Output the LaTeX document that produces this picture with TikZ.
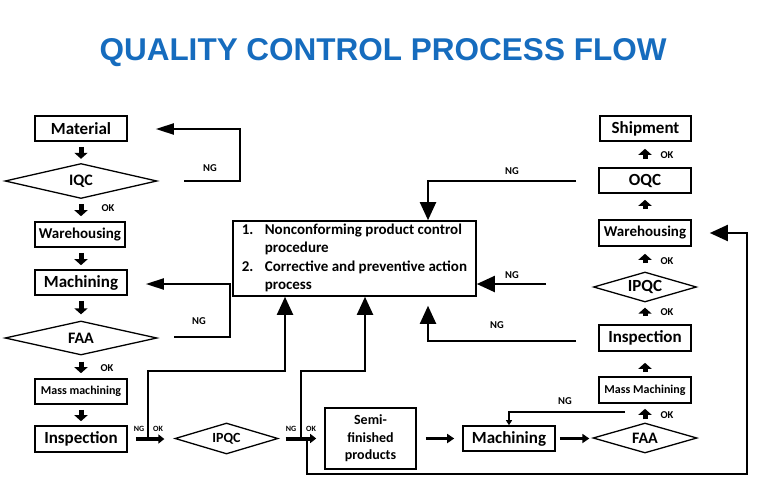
\documentclass[tikz,border=0pt]{standalone}
\usepackage{fontspec}
\setmainfont{Carlito}
\newfontfamily\titlefont{Liberation Sans}
\usetikzlibrary{arrows.meta,shapes.geometric}
\definecolor{titleblue}{RGB}{22,108,190}
\newcommand\setfs[1]{\fontsize{#1}{#1}\selectfont}
\begin{document}
\begin{tikzpicture}[x=1pt,y=-1pt,
  box/.style={draw, line width=1.6pt, inner sep=0pt, font=\bfseries\setfs{17}, minimum height=25pt},
  dia/.style={draw, diamond, aspect=3.5, line width=1.3pt, inner sep=0pt, font=\bfseries\setfs{16}},
  blk/.style={line width=5pt, -{Triangle[width=13pt,length=6pt]}},
  conn/.style={line width=2pt, -{Triangle[width=16pt,length=18pt]}},
  connL/.style={line width=2pt, -{Triangle[width=11pt,length=18pt]}},
  thk/.style={line width=4pt, -{Triangle[width=9pt,length=6pt]}},
  med/.style={line width=3pt, -{Triangle[width=9pt,length=7pt]}},
  lab/.style={font=\bfseries\setfs{10.5}, inner sep=0pt},
  slab/.style={font=\bfseries\setfs{8}, inner sep=0pt}]
\useasboundingbox (0,0) rectangle (765,490);

\node[font=\titlefont\bfseries\setfs{31.5}, text=titleblue] (title) at (383,53) {QUALITY CONTROL PROCESS FLOW};

% left column
\node[box, minimum width=92pt] (material) at (81,128.5) {Material};
\node[dia, minimum width=152pt, minimum height=35pt] (iqc) at (81,181) {IQC};
\node[box, minimum width=90pt, font=\bfseries\setfs{15}] (wh1) at (80,234.5) {Warehousing};
\node[box, minimum width=92pt] (mach1) at (81,282.5) {Machining};
\node[dia, minimum width=152pt, minimum height=34pt] (faa1) at (81,338) {FAA};
\node[box, minimum width=92pt, font=\bfseries\setfs{12}] (mass1) at (81,391.5) {Mass machining};
\node[box, minimum width=92pt, minimum height=26pt] (insp1) at (81,439) {Inspection};

% bottom row
\node[dia, minimum width=103pt, minimum height=31pt, font=\bfseries\setfs{14}] (ipqc1) at (226.5,438.5) {IPQC};
\node[box, minimum width=91pt, minimum height=61pt, align=center, font=\bfseries\fontsize{14}{17.5}\selectfont] (semi) at (370.5,438.5) {Semi-\\finished\\products};
\node[box, minimum width=92pt] (mach2) at (509,438.5) {Machining};
\node[dia, minimum width=104pt, minimum height=30pt] (faa2) at (645,438) {FAA};

% right column
\node[box, minimum width=92pt, minimum height=26pt, font=\bfseries\setfs{12}] (mass2) at (645,390) {Mass Machining};
\node[box, minimum width=92pt, minimum height=26pt] (insp2) at (645,338) {Inspection};
\node[dia, minimum width=103pt, minimum height=30pt, font=\bfseries\setfs{17}] (ipqc2) at (645,287) {IPQC};
\node[box, minimum width=92pt, minimum height=26pt, font=\bfseries\setfs{15}] (wh2) at (645,233) {Warehousing};
\node[box, minimum width=92pt] (oqc) at (645,180.5) {OQC};
\node[box, minimum width=91pt] (ship) at (645.5,128.5) {Shipment};

% central box
\node[draw, line width=1.6pt, minimum width=243pt, minimum height=75pt, inner sep=0pt,
      font=\bfseries\fontsize{15}{18.5}\selectfont] (ctrl) at (354.5,258.5)
  {\begin{tabular}{@{}p{23pt}@{}l@{}}
   1. & Nonconforming product control\\
      & procedure\\
   2. & Corrective and preventive action\\
      & process
   \end{tabular}};

% left column block arrows
\draw[blk, shorten <=5pt, shorten >=4pt] (material.south) -- (iqc.north);
\draw[blk, shorten <=5pt, shorten >=5pt] (iqc.south) -- (iqc.south |- wh1.north);
\draw[blk, shorten <=5pt, shorten >=4pt] (wh1.south -| mach1.north) -- (mach1.north);
\draw[blk, shorten <=5pt, shorten >=6pt] (mach1.south) -- (faa1.north);
\draw[blk, shorten <=6pt, shorten >=5pt] (faa1.south) -- (mass1.north);
\draw[blk, shorten <=5pt, shorten >=4pt] (mass1.south) -- (insp1.north);
\node[lab] (okA) at (108,208) {OK};
\node[lab] (okB) at (107,368) {OK};

% left NG loops
\coordinate (n3) at (184,181); \coordinate (c3) at (240,129);
\draw[connL, shorten >=28pt] (n3) -| (c3) -- (c3 -| material.east);
\node[lab] (ngA) at (210,168) {NG};
\coordinate (n6) at (174,337); \coordinate (c6) at (230,284);
\draw[connL, shorten >=18pt] (n6) -| (c6) -- (c6 -| mach1.east);
\node[lab] (ngB) at (199,321) {NG};

% bottom row
\draw[thk, shorten <=8pt, shorten >=10pt] (insp1.east) -- (insp1.east -| ipqc1.west);
\coordinate (j1) at (148,439); \coordinate (r1) at (285,371);
\draw[conn] (j1) |- (r1) -- (r1 |- ctrl.south);
\node[slab] (ngC) at (139,429) {NG};
\node[slab] (okC) at (158,429) {OK};

\draw[thk, shorten <=7pt, shorten >=8pt] (ipqc1.east) -- (ipqc1.east -| semi.west);
\coordinate (j2) at (301,438.5); \coordinate (r2) at (365,371);
\draw[conn] (j2) |- (r2) -- (r2 |- ctrl.south);
\coordinate (j3) at (307,438.5); \coordinate (b3) at (747,474);
\draw[conn, shorten >=18pt] (j3) |- (b3) |- (wh2.east);
\node[slab] (ngD) at (291,429) {NG};
\node[slab] (okD) at (311,429) {OK};

\draw[med, shorten <=9pt, shorten >=8pt] (semi.east) -- (semi.east -| mach2.west);
\draw[med, shorten <=4pt, shorten >=3pt] (mach2.east) -- (mach2.east -| faa2.west);

% right column
\draw[blk, shorten <=3pt, shorten >=5pt] (faa2.north) -- (mass2.south);
\node[lab] (okE) at (667,415) {OK};
\coordinate (n4) at (625,412);
\draw[line width=1.2pt, -{Triangle[width=6pt,length=5pt]}] (n4) -| (mach2.north);
\node[lab] (ngE) at (565,401) {NG};
\draw[blk, shorten <=4pt, shorten >=11pt] (mass2.north) -- (insp2.south);
\draw[blk, shorten <=8pt, shorten >=5pt] (insp2.north) -- (ipqc2.south);
\node[lab] (okF) at (667,312) {OK};
\draw[blk, shorten <=8pt, shorten >=7pt] (ipqc2.north) -- (wh2.south);
\node[lab] (okG) at (667,261) {OK};
\draw[blk, shorten <=10pt, shorten >=6pt] (wh2.north) -- (oqc.south);
\draw[blk, shorten <=8pt, shorten >=7pt] (oqc.north) -- (oqc.north |- ship.south);
\node[lab] (okH) at (667,155) {OK};

% NG into central box
\coordinate (n1) at (576,181); \coordinate (t1) at (428,181);
\draw[conn] (n1) -- (t1) -- (t1 |- ctrl.north);
\node[lab] (ngF) at (512,171) {NG};
\coordinate (n2) at (546,284);
\draw[conn] (n2) -- (n2 -| ctrl.east);
\node[lab] (ngG) at (512,275) {NG};
\coordinate (n5) at (576,341); \coordinate (t5) at (428,341);
\draw[conn, shorten >=9pt] (n5) -- (t5) -- (t5 |- ctrl.south);
\node[lab] (ngH) at (497,325) {NG};
\end{tikzpicture}
\end{document}
